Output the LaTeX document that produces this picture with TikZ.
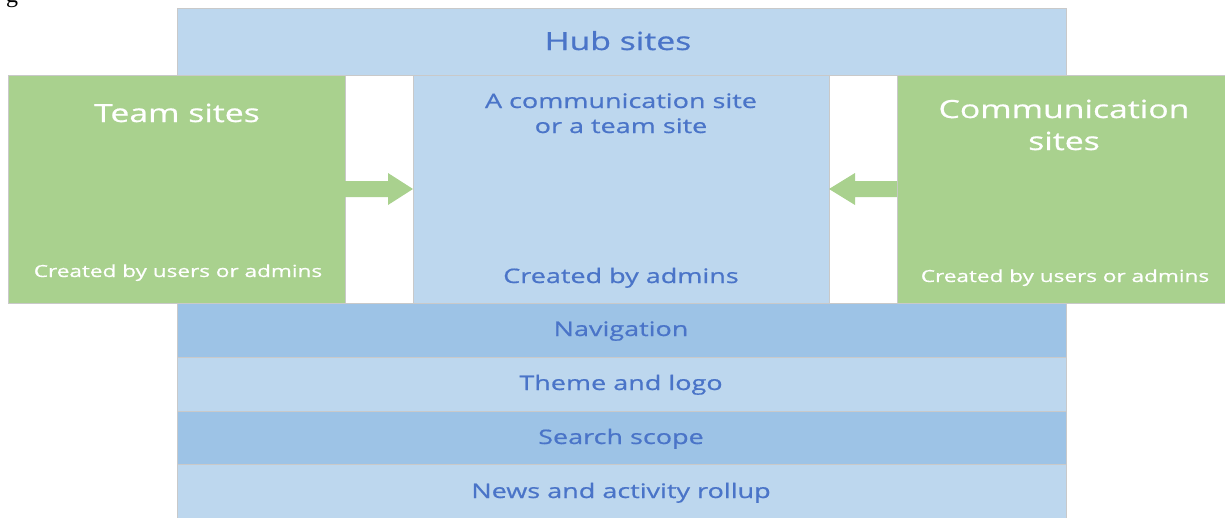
\documentclass[tikz,border=0pt]{standalone}
\usepackage{fontspec}
\newfontfamily\wf[FakeStretch=1.35,FakeBold=0.7]{Open Sans}
\newfontfamily\capfont{Liberation Serif}
\definecolor{hubblue}{HTML}{BDD7EE}
\definecolor{bandblue}{HTML}{9DC3E6}
\definecolor{sitegreen}{HTML}{A9D18E}
\definecolor{textblue}{HTML}{4A74C8}
\definecolor{edgegray}{HTML}{C9C9C9}
\begin{document}
\begin{tikzpicture}[x=1pt,y=-1pt,
  box/.style={draw=edgegray, line width=0.6pt, inner sep=0pt, outer sep=0pt, anchor=north west},
  lightbox/.style={box, fill=hubblue},
  darkbox/.style={box, fill=bandblue},
  greenbox/.style={box, fill=sitegreen},
  txt/.style={inner sep=0pt, anchor=base, text=textblue, font=\wf\fontsize{20}{24}\selectfont},
  bigtxt/.style={txt, font=\wf\fontsize{25}{30}\selectfont},
  whitebig/.style={bigtxt, text=white},
  whitesmall/.style={txt, text=white, font=\wf\fontsize{16.7}{20}\selectfont},
  arrowfill/.style={fill=sitegreen}]
\useasboundingbox (0,0) rectangle (1225,517);
% cut-off caption fragment
\begin{scope}
\clip (0,0) rectangle (120,12);
\node[inner sep=0pt, anchor=base west, font=\capfont\fontsize{24}{28}\selectfont] (capg) at (6,2) {g};
\end{scope}
% boxes
\node[lightbox, minimum width=889pt, minimum height=67pt] (hub) at (177,8) {};
\node[greenbox, minimum width=337pt, minimum height=228pt] (team) at (8,75) {};
\node[greenbox, minimum width=332pt, minimum height=228pt] (comm) at (897,75) {};
\node[lightbox, minimum width=416pt, minimum height=228pt] (mid) at (413,75) {};
\node[darkbox, minimum width=889pt, minimum height=54pt] (nav) at (177,303) {};
\node[lightbox, minimum width=889pt, minimum height=54pt] (theme) at (177,357) {};
\node[darkbox, minimum width=889pt, minimum height=53pt] (search) at (177,411) {};
\node[lightbox, minimum width=889pt, minimum height=60pt] (news) at (177,464) {};
% arrows
\fill[arrowfill] ([yshift=8pt]team.east) -- ([xshift=-25pt,yshift=8pt]mid.west)
  -- ([xshift=-25pt,yshift=16pt]mid.west) -- (mid.west)
  -- ([xshift=-25pt,yshift=-16pt]mid.west) -- ([xshift=-25pt,yshift=-8pt]mid.west)
  -- ([yshift=-8pt]team.east) -- cycle;
\fill[arrowfill] ([yshift=8pt]comm.west) -- ([xshift=26pt,yshift=8pt]mid.east)
  -- ([xshift=26pt,yshift=16pt]mid.east) -- (mid.east)
  -- ([xshift=26pt,yshift=-16pt]mid.east) -- ([xshift=26pt,yshift=-8pt]mid.east)
  -- ([yshift=-8pt]comm.west) -- cycle;
% texts
\node[bigtxt] (thub) at (618,50) {Hub sites};
\node[whitebig] (tteam) at (177,122) {Team sites};
\node[whitebig] (tcomm1) at (1064,118) {Communication};
\node[whitebig] (tcomm2) at (1064,150) {sites};
\node[whitesmall] (tteamc) at (178,277) {Created by users or admins};
\node[whitesmall] (tcommc) at (1065,282) {Created by users or admins};
\node[txt] (tmid1) at (621,108) {A communication site};
\node[txt] (tmid2) at (621,133) {or a team site};
\node[txt] (tmidc) at (621,283) {Created by admins};
\node[txt] (tnav) at (621,336) {Navigation};
\node[txt] (ttheme) at (621,390) {Theme and logo};
\node[txt] (tsearch) at (621,444) {Search scope};
\node[txt] (tnews) at (621,498) {News and activity rollup};
\end{tikzpicture}
\end{document}
